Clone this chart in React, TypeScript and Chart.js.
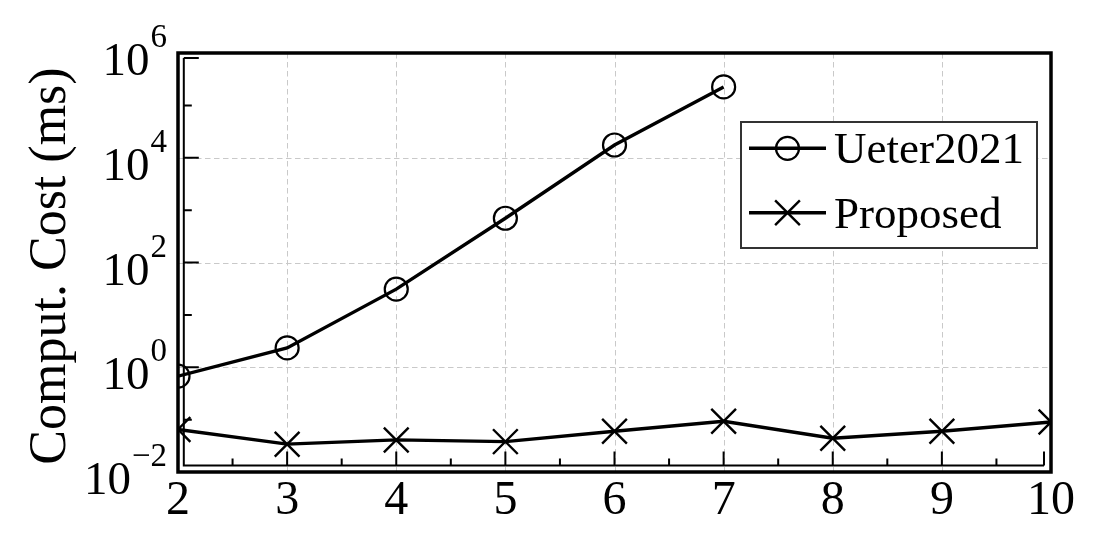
import React, { useEffect, useRef } from 'react';
import { Chart, registerables } from 'chart.js';

Chart.register(...registerables);

// ---- data ----
const seriesLabels = ['Ueter2021', 'Proposed'];
const ueterX = [2, 3, 4, 5, 6, 7];
const ueterValues = [0.675, 2.34, 31, 700, 17500, 225000];
const proposedX = [2, 3, 4, 5, 6, 7, 8, 9, 10];
const proposedValues = [0.065, 0.034, 0.041, 0.038, 0.06, 0.093, 0.044, 0.06, 0.09];
const xTickValues = [2, 3, 4, 5, 6, 7, 8, 9, 10];
const xMinorTickValues = [2.5, 3.5, 4.5, 5.5, 6.5, 7.5, 8.5, 9.5];
const yMajorExponents = [-2, 0, 2, 4, 6];
const yMinorExponents = [-1, 1, 3, 5];
const yTitle = 'Comput. Cost (ms)';

const FONT = '"Liberation Serif", "DejaVu Serif", serif';

function drawMarker(ctx: CanvasRenderingContext2D, style: string, x: number, y: number, r: number, lw: number) {
  ctx.save();
  ctx.strokeStyle = '#000';
  ctx.lineWidth = lw;
  ctx.beginPath();
  if (style === 'circle') {
    ctx.arc(x, y, r, 0, Math.PI * 2);
  } else {
    const o = r * Math.SQRT1_2;
    ctx.moveTo(x - o, y - o);
    ctx.lineTo(x + o, y + o);
    ctx.moveTo(x + o, y - o);
    ctx.lineTo(x - o, y + o);
  }
  ctx.stroke();
  ctx.restore();
}

const framePlugin = {
  id: 'frameDecor',
  beforeDatasetsDraw(chart: any) {
    const { ctx, chartArea: a, scales } = chart;
    const xs = scales.x;
    const ys = scales.y;
    ctx.save();
    ctx.strokeStyle = '#c9c9c9';
    ctx.lineWidth = 1;
    ctx.setLineDash([5.5, 3.5]);
    for (const v of xTickValues) {
      const px = Math.round(xs.getPixelForValue(v)) + 0.5;
      ctx.beginPath();
      ctx.moveTo(px, a.top);
      ctx.lineTo(px, a.bottom);
      ctx.stroke();
    }
    for (const e of yMajorExponents) {
      const py = Math.round(ys.getPixelForValue(Math.pow(10, e))) + 0.5;
      ctx.beginPath();
      ctx.moveTo(a.left, py);
      ctx.lineTo(a.right, py);
      ctx.stroke();
    }
    ctx.restore();
  },
  afterDatasetsDraw(chart: any) {
    const { ctx, chartArea: a, scales } = chart;
    const xs = scales.x;
    const ys = scales.y;
    ctx.save();
    // inner tick spines
    const innerL = a.left + 5.8;
    const innerB = a.bottom - 6.5;
    const innerT = a.top + 5;
    const innerR = a.right - 7;
    ctx.strokeStyle = '#000';
    ctx.lineWidth = 2;
    ctx.beginPath();
    ctx.moveTo(innerL, innerT);
    ctx.lineTo(innerL, innerB);
    ctx.lineTo(innerR, innerB);
    ctx.stroke();
    // y ticks
    ctx.beginPath();
    for (const e of yMajorExponents) {
      const py = ys.getPixelForValue(Math.pow(10, e));
      if (py > innerT + 2 && py < innerB - 2) {
        ctx.moveTo(innerL, py);
        ctx.lineTo(innerL + 15, py);
      }
    }
    ctx.moveTo(innerL, innerT);
    ctx.lineTo(innerL + 15, innerT);
    for (const e of yMinorExponents) {
      const py = ys.getPixelForValue(Math.pow(10, e));
      ctx.moveTo(innerL, py);
      ctx.lineTo(innerL + 8, py);
    }
    // x ticks
    for (const v of xTickValues) {
      const px = xs.getPixelForValue(v);
      if (px > innerL + 2 && px < innerR - 2) {
        ctx.moveTo(px, innerB);
        ctx.lineTo(px, innerB - 14);
      }
    }
    ctx.moveTo(innerR, innerB);
    ctx.lineTo(innerR, innerB - 14);
    for (const v of xMinorTickValues) {
      const px = xs.getPixelForValue(v);
      ctx.moveTo(px, innerB);
      ctx.lineTo(px, innerB - 7);
    }
    ctx.stroke();

    // outer frame
    ctx.lineWidth = 3.5;
    ctx.strokeRect(a.left, a.top, a.right - a.left, a.bottom - a.top);

    // x tick labels
    ctx.fillStyle = '#000';
    ctx.font = `48px ${FONT}`;
    ctx.textAlign = 'center';
    ctx.textBaseline = 'alphabetic';
    for (const v of xTickValues) {
      ctx.fillText(String(v), xs.getPixelForValue(v), a.bottom + 42);
    }

    // y tick labels 10^e
    const rightEdge = a.left - 11;
    for (const e of yMajorExponents) {
      const py = ys.getPixelForValue(Math.pow(10, e));
      const expStr = e < 0 ? '\u2212' + Math.abs(e) : String(e);
      ctx.font = `33px ${FONT}`;
      ctx.textAlign = 'right';
      ctx.fillText(expStr, rightEdge, py - 6);
      const w = ctx.measureText(expStr).width;
      ctx.font = `47px ${FONT}`;
      ctx.fillText('10', rightEdge - w - 1, py + 22);
    }

    // y title
    ctx.save();
    ctx.font = `52px ${FONT}`;
    ctx.textAlign = 'center';
    ctx.textBaseline = 'alphabetic';
    ctx.translate(65, 266);
    ctx.rotate(-Math.PI / 2);
    ctx.fillText(yTitle, 0, 0);
    ctx.restore();

    // legend
    const lx = 741;
    const ly = 122;
    const lw = 296;
    const lh = 126;
    ctx.fillStyle = '#fff';
    ctx.fillRect(lx, ly, lw, lh);
    ctx.strokeStyle = '#333';
    ctx.lineWidth = 2;
    ctx.strokeRect(lx, ly, lw, lh);
    const rows = [148.3, 212.7];
    chart.data.datasets.forEach((ds: any, i: number) => {
      const ry = rows[i];
      ctx.strokeStyle = '#000';
      ctx.lineWidth = ds.borderWidth;
      ctx.beginPath();
      ctx.moveTo(749, ry);
      ctx.lineTo(826, ry);
      ctx.stroke();
      drawMarker(ctx, ds.pointStyle, 787.5, ry, ds.pointRadius, ds.pointBorderWidth);
      ctx.fillStyle = '#000';
      ctx.font = `45px ${FONT}`;
      ctx.textAlign = 'left';
      ctx.fillText(ds.label, 834, ry + 15);
    });
    ctx.restore();
  },
};

export default function App() {
  const ref = useRef<HTMLCanvasElement | null>(null);
  useEffect(() => {
    if (!ref.current) return;
    const chart = new Chart(ref.current, {
      type: 'line',
      data: {
        datasets: [
          {
            label: seriesLabels[0],
            data: ueterX.map((x, i) => ({ x, y: ueterValues[i] })),
            borderColor: '#000',
            borderWidth: 3.4,
            pointStyle: 'circle',
            pointRadius: 11.5,
            pointBorderWidth: 2.2,
            pointBackgroundColor: 'rgba(0,0,0,0)',
            pointBorderColor: '#000',
            tension: 0,
            clip: 0,
          } as any,
          {
            label: seriesLabels[1],
            data: proposedX.map((x, i) => ({ x, y: proposedValues[i] })),
            borderColor: '#000',
            borderWidth: 3.4,
            pointStyle: 'crossRot',
            pointRadius: 17.5,
            pointBorderWidth: 2.4,
            pointBackgroundColor: 'rgba(0,0,0,0)',
            pointBorderColor: '#000',
            tension: 0,
            clip: 0,
          } as any,
        ],
      },
      options: {
        responsive: false,
        animation: false,
        devicePixelRatio: 1,
        events: [],
        layout: { padding: { left: 178, top: 53, right: 53, bottom: 80 } },
        plugins: { legend: { display: false }, tooltip: { enabled: false } },
        scales: {
          x: { type: 'linear', display: false, min: 2, max: 10 },
          y: { type: 'logarithmic', display: false, min: 0.01, max: 1e6 },
        },
      },
      plugins: [framePlugin],
    });
    return () => chart.destroy();
  }, []);
  return (
    <div style={{ position: 'fixed', left: 0, top: 0, width: 1104, height: 552, background: '#fff' }}>
      <canvas ref={ref} width={1104} height={552} style={{ display: 'block', width: 1104, height: 552 }} />
    </div>
  );
}
